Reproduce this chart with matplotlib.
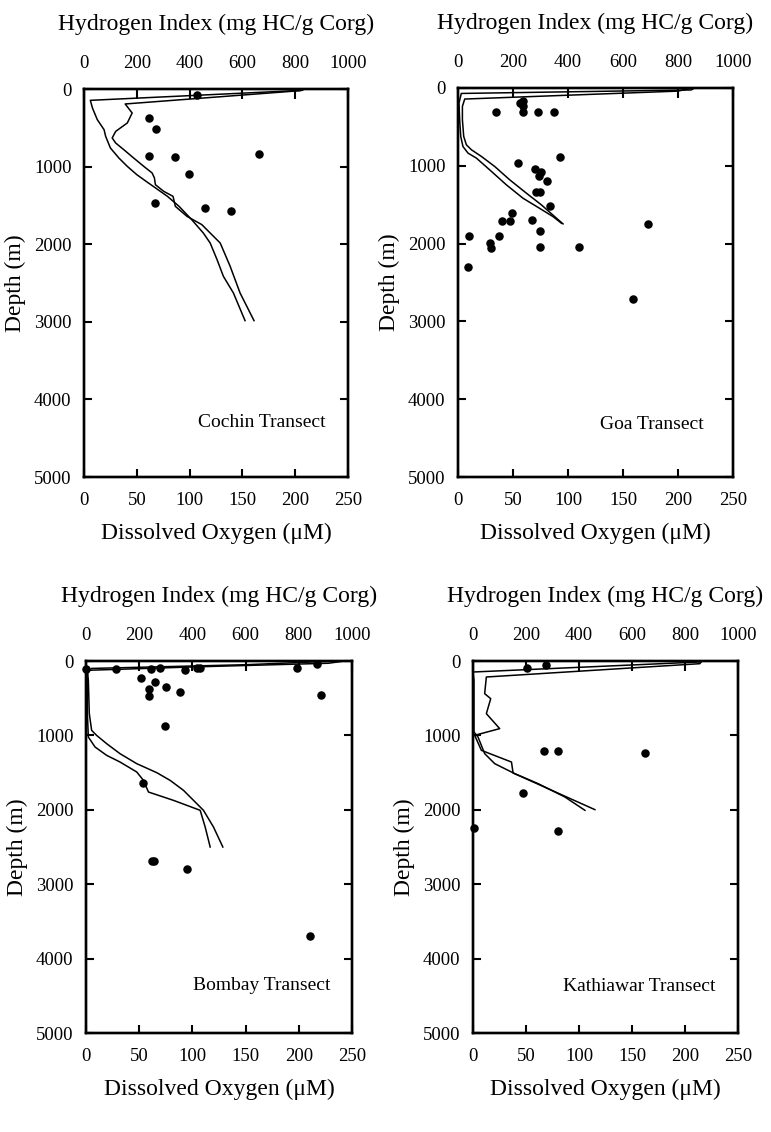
import matplotlib
matplotlib.use("Agg")
import matplotlib.pyplot as plt

plt.rcParams['font.family'] = ['Liberation Serif', 'DejaVu Serif']

# ---- Cochin transect ----
cochin_o2_a = [208, 207, 6, 8, 12.6, 19, 20.5, 25, 33, 41, 50, 61, 79, 90, 102, 113, 119.5, 126, 132, 141.5, 152.5]
cochin_dep_a = [0, 17, 146, 245, 395, 524, 610, 760, 889, 997, 1104, 1211, 1383, 1512, 1684, 1856, 1985, 2199, 2414, 2629, 2985]
cochin_o2_b = [207, 205, 39, 45.6, 41, 30, 26.7, 30, 37.7, 47, 56.6, 64.5, 66.7, 67.6, 75.5, 84.3, 86.5, 97.5, 111.6, 119.5, 129, 138.4, 147.8, 161]
cochin_dep_b = [0, 21, 193, 309, 438, 546, 631, 696, 782, 889, 997, 1082, 1147, 1233, 1319, 1383, 1512, 1641, 1748, 1856, 1985, 2285, 2629, 2985]
cochin_hi = [428, 248, 272, 245, 345, 662, 397, 270, 458, 557]
cochin_hi_dep = [73, 374, 515, 863, 880, 838, 1095, 1465, 1533, 1576]

# ---- Goa transect ----
goa_o2_a = [215, 212, 3, 0.9, 1.5, 2.5, 4.5, 9.1, 16.7, 28.8, 44, 59, 74, 86.4, 94]
goa_dep_a = [0, 25, 70, 193, 408, 623, 752, 837, 901, 1052, 1245, 1416, 1545, 1653, 1738]
goa_o2_b = [213, 200, 6.1, 4, 4, 5.2, 7.6, 12.2, 21.3, 33.4, 47, 62.2, 75.8, 87.9, 95.5]
goa_dep_b = [0, 40, 142, 237, 408, 623, 730, 794, 880, 1009, 1180, 1352, 1502, 1653, 1747]
goa_hi = [224, 236, 236, 236, 137, 291, 348, 370, 218, 279, 303, 293, 324, 285, 297,
          333, 198, 160, 188, 268, 297, 691, 39, 148, 115, 119, 297, 441, 35, 638]
goa_hi_dep = [193, 172, 236, 309, 313, 313, 313, 884, 961, 1039, 1086, 1137, 1189, 1343, 1343,
              1515, 1609, 1704, 1704, 1700, 1841, 1747, 1897, 1897, 1996, 2052, 2043, 2043, 2296, 2717]

# ---- Bombay transect ----
bombay_o2_a = [243, 228, 100, 1.3, 2.2, 3.1, 5.3, 10, 19.4, 32, 47.7, 66.5, 79, 91.6, 110.4, 119.8, 128.6]
bombay_dep_a = [0, 30, 80, 125, 260, 708, 932, 1000, 1111, 1246, 1380, 1501, 1604, 1738, 2007, 2231, 2500]
bombay_o2_b = [235, 150, 5, 1.3, 1.3, 2.2, 8.5, 19.4, 32, 47.7, 54, 58.7, 82.2, 107.3, 112, 116.7]
bombay_dep_b = [0, 50, 100, 170, 708, 1022, 1156, 1268, 1358, 1492, 1604, 1761, 1873, 2007, 2231, 2500]
bombay_hi = [0, 112, 243, 279, 373, 417, 427, 793, 868, 206, 261, 237, 299, 355, 237, 883,
             296, 216, 247, 256, 380, 842]
bombay_hi_dep = [103, 103, 103, 94, 116, 94, 94, 94, 45, 228, 287, 372, 354, 417, 470, 452,
                 874, 1640, 2693, 2693, 2800, 3701]

# ---- Kathiawar transect ----
kath_o2_a = [216, 214, 0, 0.9, 0.9, 4.7, 11, 20.5, 39.4, 61.5, 86.7, 105.6]
kath_dep_a = [0, 13, 148, 260, 954, 1021, 1245, 1380, 1514, 1649, 1828, 2007]
kath_o2_b = [216, 214, 12.6, 11, 16.7, 12.6, 25.2, 1.6, 7.9, 36.3, 37.8, 115]
kath_dep_b = [0, 36, 215, 439, 506, 708, 909, 999, 1201, 1358, 1505, 1998]
kath_hi = [202, 275, 269, 322, 649, 187, 4, 319]
kath_hi_dep = [90, 58, 1210, 1210, 1232, 1770, 2240, 2285]

panels = [
    ("Cochin Transect", cochin_o2_a, cochin_dep_a, cochin_o2_b, cochin_dep_b, cochin_hi, cochin_hi_dep,
     [84 / 771, 1 - 477 / 1132, 264 / 771, 388 / 1132], (168, 4300)),
    ("Goa Transect", goa_o2_a, goa_dep_a, goa_o2_b, goa_dep_b, goa_hi, goa_hi_dep,
     [458 / 771, 1 - 477 / 1132, 275 / 771, 389 / 1132], (176, 4320)),
    ("Bombay Transect", bombay_o2_a, bombay_dep_a, bombay_o2_b, bombay_dep_b, bombay_hi, bombay_hi_dep,
     [86 / 771, 1 - 1033 / 1132, 266 / 771, 372 / 1132], (165, 4355)),
    ("Kathiawar Transect", kath_o2_a, kath_dep_a, kath_o2_b, kath_dep_b, kath_hi, kath_hi_dep,
     [473 / 771, 1 - 1033 / 1132, 265 / 771, 372 / 1132], (157, 4380)),
]

fig = plt.figure(figsize=(7.71, 11.32), dpi=100)

for name, o2a, da, o2b, db, hi, hid, rect, txt in panels:
    ax = fig.add_axes(rect)
    ax.plot(o2a, da, color='black', lw=1.1)
    ax.plot(o2b, db, color='black', lw=1.1)
    ax.set_xlim(0, 250)
    ax.set_ylim(5000, 0)
    ax.set_xticks([0, 50, 100, 150, 200, 250])
    ax.set_yticks([0, 1000, 2000, 3000, 4000, 5000])
    ax.tick_params(axis='both', direction='in', length=6, width=1.5, labelsize=13.5)
    ax.tick_params(axis='x', pad=11)
    ax.tick_params(axis='y', right=True, pad=9)
    ax.set_xlabel("Dissolved Oxygen (\u03bcM)", fontsize=17, labelpad=10)
    ax.set_ylabel("Depth (m)", fontsize=17, labelpad=6)
    ax.text(txt[0], txt[1], name, fontsize=14, ha='center', va='center')

    # hydrogen index on the top axis
    ax2 = ax.twiny()
    ax2.scatter(hi, hid, s=26, color='black', zorder=3, clip_on=False)
    ax2.set_xlim(0, 1000)
    ax2.set_xticks([0, 200, 400, 600, 800, 1000])
    ax2.tick_params(axis='x', direction='in', length=7, width=1.5, labelsize=13.5, pad=12)
    ax2.set_xlabel("Hydrogen Index (mg HC/g Corg)", fontsize=17, labelpad=18)
    for a in (ax, ax2):
        for sp in a.spines.values():
            sp.set_linewidth(1.7)

fig.savefig("out.png", dpi=100)
